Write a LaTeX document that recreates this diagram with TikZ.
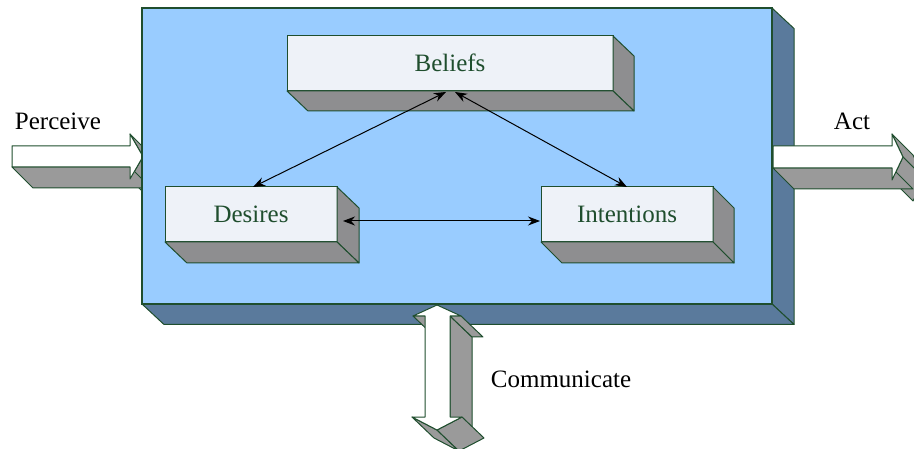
\documentclass[tikz,border=0pt]{standalone}
\usepackage{fontspec}
\setmainfont{Liberation Serif}
\usetikzlibrary{arrows.meta}

\definecolor{edge}{HTML}{1F4E2E}
\definecolor{panel}{HTML}{99CCFF}
\definecolor{panelside}{HTML}{5A7A9C}
\definecolor{card}{HTML}{EEF2F8}
\definecolor{cardside}{HTML}{8E8E90}
\definecolor{shaftside}{HTML}{9A9A9A}

% side and bottom faces of an extruded box whose front face is node #1
\newcommand\boxdepth[4]{%
  \filldraw[facestyle, fill=#2] (#1.north east) -- ++(#3,#4)
    -- ([shift={(#3,#4)}]#1.south east) -- (#1.south east) -- cycle;
  \filldraw[facestyle, fill=#2] (#1.south west) -- ++(#3,#4)
    -- ([shift={(#3,#4)}]#1.south east) -- (#1.south east) -- cycle;
}

\begin{document}
\begin{tikzpicture}[x=1pt, y=-1pt,
  facestyle/.style={draw=edge, line width=1pt, line join=round},
  front/.style={draw=edge, line width=1pt, fill=white, line join=round},
  panelbox/.style={rectangle, draw=edge, line width=1.2pt, fill=panel,
    outer sep=0pt, inner sep=0pt},
  cardbox/.style={rectangle, draw=edge, line width=1pt, fill=card,
    outer sep=0pt, inner sep=0pt, text=edge,
    font=\fontsize{25}{29}\selectfont, text height=17pt, text depth=0pt,
    minimum height=55pt},
  caption/.style={anchor=base, inner sep=0pt, font=\fontsize{25}{29}\selectfont},
  link/.style={{Stealth[length=12pt,width=9pt]}-{Stealth[length=12pt,width=9pt]},
    line width=1pt, black},
]
\useasboundingbox (0,0) rectangle (914,449);
\clip (0,0) rectangle (914,449);

% Perceive arrow, entering behind the agent panel
\filldraw[facestyle, fill=shaftside] (130,134) -- (143,156.5) -- (164,177.5) -- (151,155) -- cycle;
\filldraw[facestyle, fill=shaftside] (143,156.5) -- (130,179) -- (151,200) -- (164,177.5) -- cycle;
\filldraw[facestyle, fill=shaftside] (130,167) -- (12,167) -- (33,188) -- (151,188) -- cycle;
\filldraw[front] (12,146) -- (130,146) -- (130,134) -- (143,156.5) -- (130,179) -- (130,167) -- (12,167) -- cycle;

% agent panel
\node[panelbox, minimum width=630pt, minimum height=296pt] (agent) at (457,156) {};
\boxdepth{agent}{panelside}{22}{20.5}
\node[panelbox, minimum width=630pt, minimum height=296pt] at (457,156) {};

% mental-state cards
\node[cardbox, minimum width=326pt] (beliefs) at (450,63.5) {Beliefs};
\boxdepth{beliefs}{cardside}{21}{20}
\node[cardbox, minimum width=172pt] (desires) at (251,214.5) {Desires};
\boxdepth{desires}{cardside}{22}{21}
\node[cardbox, minimum width=172pt] (intentions) at (627,214.5) {Intentions};
\boxdepth{intentions}{cardside}{21}{21}

% relations between the cards
\draw[link] ([xshift=-4pt,yshift=-1pt]beliefs.south) -- ([xshift=2pt]desires.north);
\draw[link] ([xshift=5pt,yshift=-1pt]beliefs.south) -- (intentions.north);
\draw[link] ([xshift=6pt,yshift=-6.5pt]desires.east) -- ([xshift=-1pt,yshift=-6.5pt]intentions.west);

% Act arrow, leaving from the panel side
\filldraw[facestyle, fill=shaftside] (892,134) -- (903,157) -- (924,178) -- (913,155) -- cycle;
\filldraw[facestyle, fill=shaftside] (903,157) -- (892,180) -- (913,201) -- (924,178) -- cycle;
\filldraw[facestyle, fill=shaftside] (892,168) -- (773,168) -- (794,189) -- (913,189) -- cycle;
\filldraw[front] (773,146) -- (892,146) -- (892,134) -- (903,157) -- (892,180) -- (892,168) -- (773,168) -- cycle;

% Communicate double arrow below the panel
\filldraw[facestyle, fill=shaftside] (413,316) -- (425,316) -- (447,337) -- (435,337) -- cycle;
\filldraw[facestyle, fill=shaftside] (450,417) -- (450,316) -- (472,337) -- (472,438) -- cycle;
\filldraw[facestyle, fill=shaftside] (450,316) -- (461,316) -- (483,337) -- (472,337) -- cycle;
\filldraw[facestyle, fill=shaftside] (412,417) -- (437,430) -- (459,451) -- (434,438) -- cycle;
\filldraw[facestyle, fill=shaftside] (437,430) -- (462,417) -- (484,438) -- (459,451) -- cycle;
\filldraw[front] (437,305) -- (413,316) -- (425,316) -- (425,417) -- (412,417) -- (437,430)
  -- (462,417) -- (450,417) -- (450,316) -- (461,316) -- cycle;

% captions
\node[caption] (perceive) at (58,130) {Perceive};
\node[caption] (act) at (852,130) {Act};
\node[caption] (communicate) at (561,388) {Communicate};
\end{tikzpicture}
\end{document}
